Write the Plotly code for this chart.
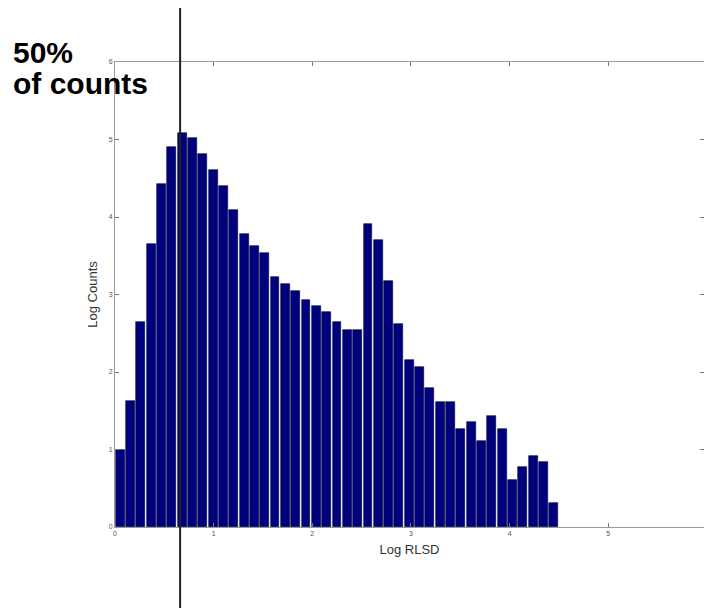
import plotly.graph_objects as go

# Histogram data: 43 equal bins spanning 0 .. 4.5 (Log RLSD), heights in Log Counts
bin_start = 0.0
bin_end = 4.5
log_counts = [1.00, 1.63, 2.64, 3.65, 4.42, 4.90, 5.09, 5.02, 4.81, 4.61,
              4.40, 4.09, 3.78, 3.62, 3.53, 3.22, 3.13, 3.05, 2.93, 2.85,
              2.77, 2.65, 2.54, 2.54, 3.91, 3.70, 3.17, 2.62, 2.15, 2.07,
              1.80, 1.61, 1.61, 1.27, 1.35, 1.11, 1.43, 1.26, 0.61, 0.78,
              0.91, 0.84, 0.31]
median_x = 0.66
x_ticks = [0, 1, 2, 3, 4, 5, 6]
y_ticks = [0, 1, 2, 3, 4, 5, 6]
annotation_lines = ["50%", "of counts"]

n = len(log_counts)
w = (bin_end - bin_start) / n
centers = [bin_start + w * (i + 0.5) for i in range(n)]

fig = go.Figure()
fig.add_trace(go.Bar(
    x=centers, y=log_counts, width=[w * 0.86] * n,
    marker=dict(color="#00007f", line=dict(color="#000033", width=0.6)),
    showlegend=False,
))

tickfont = dict(family="Liberation Sans, Arial, sans-serif", size=7, color="#555")
titlefont = dict(family="Liberation Sans, Arial, sans-serif", size=13, color="#333")
fig.update_layout(
    width=704, height=608,
    margin=dict(l=115, r=0, t=62, b=81),
    paper_bgcolor="white", plot_bgcolor="white",
    xaxis=dict(range=[0, 5.97], tickvals=x_ticks, ticks="inside", ticklen=4,
               tickcolor="#777", showline=True, linecolor="#999", linewidth=1,
               mirror="ticks", showgrid=False, zeroline=False, tickfont=tickfont,
               title=dict(text="Log RLSD", standoff=8, font=titlefont)),
    yaxis=dict(range=[0, 6], tickvals=y_ticks, ticks="inside", ticklen=4,
               tickcolor="#777", showline=True, linecolor="#999", linewidth=1,
               mirror="ticks", showgrid=False, zeroline=False, tickfont=tickfont,
               title=dict(text="Log Counts", standoff=8, font=titlefont)),
    bargap=0,
)

fig.add_shape(type="line", xref="x", yref="paper", x0=median_x, x1=median_x,
              y0=-0.175, y1=1.116, line=dict(color="#222", width=2))

ann_font = dict(family="Liberation Sans, Arial, sans-serif", size=30, color="black")
for line, ypos in zip(annotation_lines, [1.0215, 0.953]):
    fig.add_annotation(xref="paper", yref="paper", x=-0.177, y=ypos,
                       xanchor="left", yanchor="middle", showarrow=False,
                       align="left", text="<b>" + line + "</b>", font=ann_font)

fig.write_html("out.html")
